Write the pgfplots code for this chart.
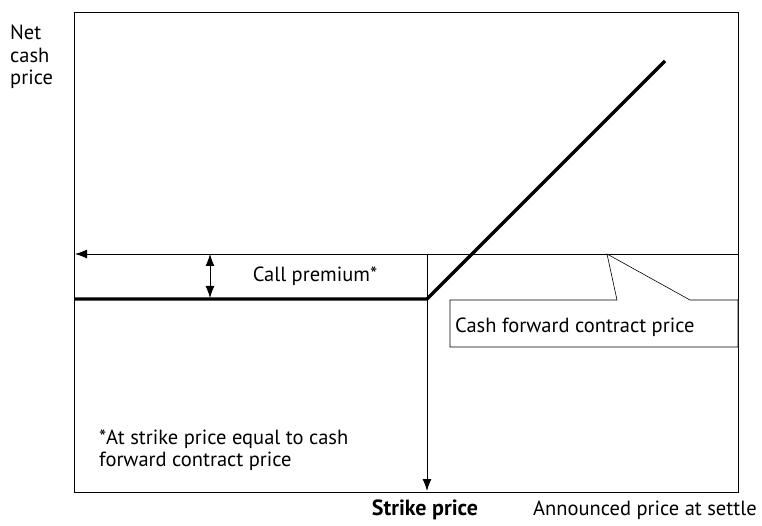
\documentclass[border=0pt]{standalone}
\usepackage{fontspec}
\setmainfont{PT Sans}
\usepackage{pgfplots}
\pgfplotsset{compat=1.18}
\usetikzlibrary{arrows.meta}
\begin{document}
\begin{tikzpicture}
\useasboundingbox (0,0) rectangle (762pt,525pt);
\begin{axis}[at={(74pt,33pt)}, anchor=south west, scale only axis,
  width=664pt, height=480pt, xmin=74, xmax=738, ymin=33, ymax=513,
  axis line style={line width=0.9pt}, ticks=none, clip=false,
  font=\fontsize{20.5}{24}\selectfont]
% payoff line
\addplot[black, line width=3.2pt, line join=miter] coordinates {(74,226) (427,226) (665,464)};
% cash forward price line
\addplot[black, line width=0.9pt, -{Latex[length=12pt,width=9pt]}] coordinates {(738,271) (75,271)};
% strike vertical
\addplot[black, line width=0.9pt, -{Latex[length=12pt,width=9pt]}] coordinates {(427,271) (427,34)};
% call premium arrow
\addplot[black, line width=0.9pt, {Latex[length=12pt,width=9pt]}-{Latex[length=12pt,width=9pt]}] coordinates {(210,271) (210,227)};
% callout
\draw[line width=0.6pt, fill=white] (axis cs:450,225) -- (axis cs:617,225) -- (axis cs:607,271) -- (axis cs:690,225) -- (axis cs:738,225) -- (axis cs:738,178) -- (axis cs:450,178) -- cycle;
\node[anchor=base west, inner sep=0pt] at (axis cs:455,193) {Cash forward contract price};
\node[anchor=base, inner sep=0pt] at (axis cs:315,243) {Call premium*};
\node[anchor=base west, inner sep=0pt] at (axis cs:99,81) {*At strike price equal to cash};
\node[anchor=base west, inner sep=0pt] at (axis cs:99,59) {forward contract price};
\node[anchor=base, inner sep=0pt] at (axis cs:425,10) {\bfseries\fontsize{22}{24}\selectfont Strike price};
\node[anchor=base west, inner sep=0pt] at (axis cs:533,10) {Announced price at settle};
\node[anchor=base west, inner sep=0pt] at (axis cs:10,485) {Net};
\node[anchor=base west, inner sep=0pt] at (axis cs:10,462) {cash};
\node[anchor=base west, inner sep=0pt] at (axis cs:10,440) {price};
\end{axis}
\end{tikzpicture}
\end{document}
